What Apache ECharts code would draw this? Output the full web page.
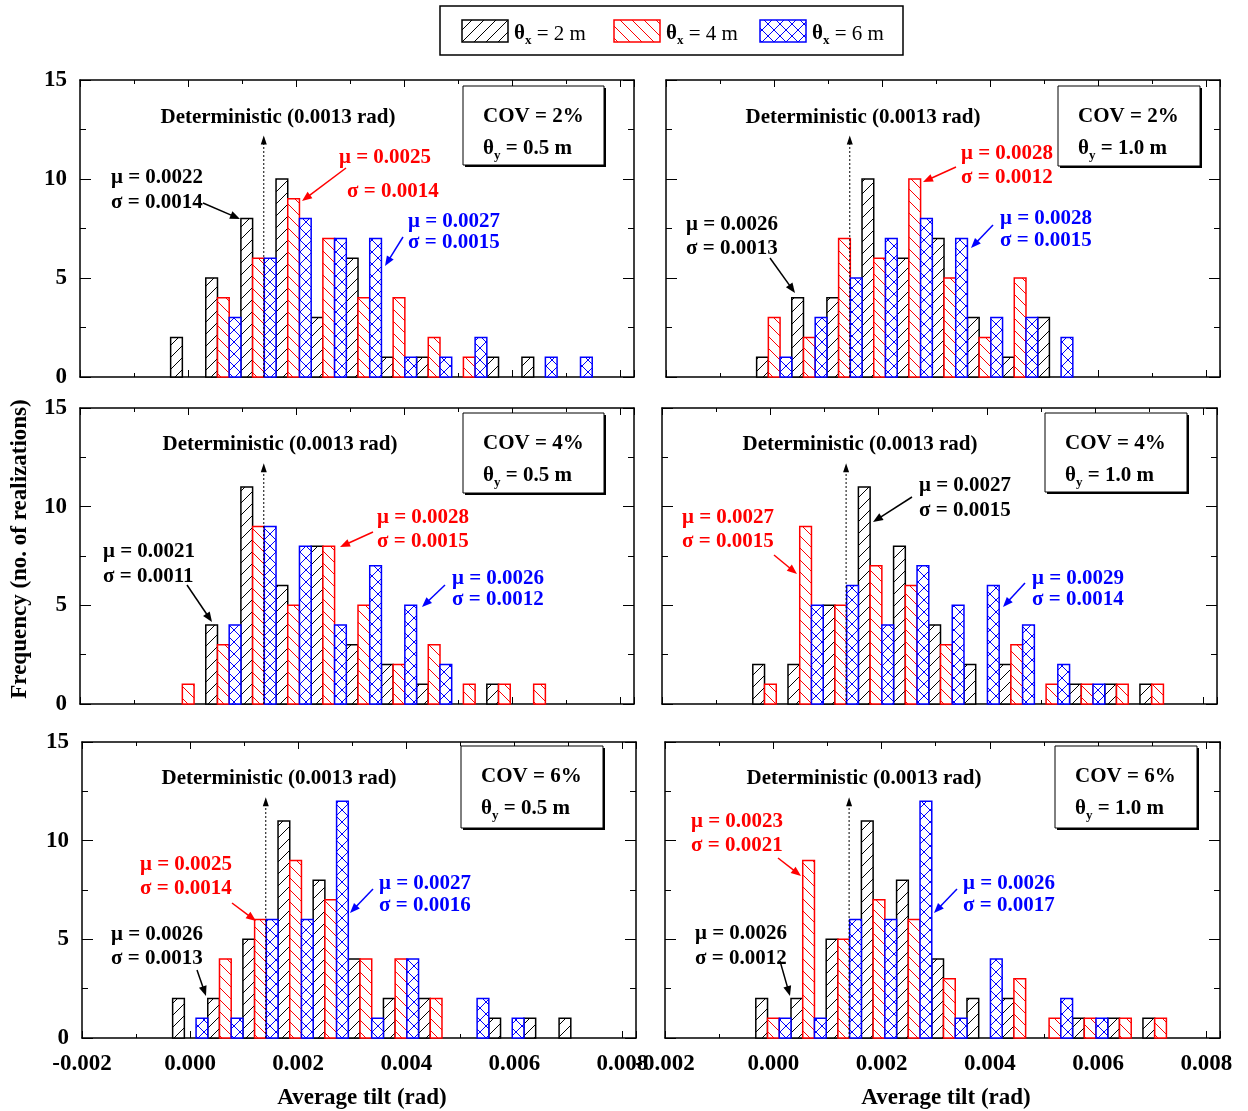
<!DOCTYPE html>
<html><head><meta charset="utf-8">
<script src="https://cdn.jsdelivr.net/npm/echarts@6/dist/echarts.min.js"></script>
<style>html,body{margin:0;padding:0;background:#fff}#c{width:1248px;height:1111px}</style>
</head><body><div id="c"></div>
<script>
// ---------------- data ----------------
const X_MIN = -0.002, X_MAX = 0.00825, X_TICK = 0.002;
const Y_MIN = 0, Y_MAX = 15, Y_TICK = 5;
// histogram bin group edges (rad); each group holds the three θx bars side by side
const BIN_EDGES = [-0.000323, 0.000327, 0.000977, 0.001627, 0.002277, 0.002927, 0.003577,
                   0.004227, 0.004877, 0.005527, 0.006177, 0.006827, 0.007477];
const DETERMINISTIC_TILT = 0.0014;   // drawn position of the dotted arrow
const DETERMINISTIC_TOP = 12.2;     // arrow tip height (count units)
const SERIES_LABELS = ['2 m', '4 m', '6 m'];
const SERIES_COLORS = ['#000000', '#ff0000', '#0000ff'];

// counts per bin: panel = COV / θy, series = θx
const cov2_ty05_tx2 = [2,5,8,10,3,6,1,1,0,1,1,0];
const cov2_ty05_tx4 = [0,4,6,9,7,4,4,2,1,0,0,0];
const cov2_ty05_tx6 = [0,3,6,8,7,7,1,1,2,0,1,1];
const cov2_ty10_tx2 = [1,4,4,10,6,7,3,1,3,0,0,0];
const cov2_ty10_tx4 = [3,2,7,6,10,5,2,5,0,0,0,0];
const cov2_ty10_tx6 = [1,3,5,7,8,7,3,3,2,0,0,0];
const cov4_ty05_tx2 = [0,4,11,6,8,3,2,1,0,1,0,0];
const cov4_ty05_tx4 = [1,3,9,5,8,5,2,3,1,1,1,0];
const cov4_ty05_tx6 = [0,4,9,8,4,7,5,2,0,0,0,0];
const cov4_ty10_tx2 = [2,2,5,11,8,4,2,2,0,1,1,1];
const cov4_ty10_tx4 = [1,9,5,7,6,3,0,3,1,1,1,1];
const cov4_ty10_tx6 = [0,5,6,4,7,5,6,4,2,1,0,0];
const cov6_ty05_tx2 = [2,2,5,11,8,4,2,2,0,1,1,1];
const cov6_ty05_tx4 = [0,4,6,9,7,4,4,2,0,0,0,0];
const cov6_ty05_tx6 = [1,1,6,6,12,1,4,0,2,1,0,0];
const cov6_ty10_tx2 = [2,2,5,11,8,4,2,2,0,1,1,1];
const cov6_ty10_tx4 = [1,9,5,7,6,3,0,3,1,1,1,1];
const cov6_ty10_tx6 = [1,1,6,6,12,1,4,0,2,1,0,0];

// statistics text [mu, sigma] per series
const stats_cov2_ty05 = [['0.0022','0.0014'],['0.0025','0.0014'],['0.0027','0.0015']];
const stats_cov2_ty10 = [['0.0026','0.0013'],['0.0028','0.0012'],['0.0028','0.0015']];
const stats_cov4_ty05 = [['0.0021','0.0011'],['0.0028','0.0015'],['0.0026','0.0012']];
const stats_cov4_ty10 = [['0.0027','0.0015'],['0.0027','0.0015'],['0.0029','0.0014']];
const stats_cov6_ty05 = [['0.0026','0.0013'],['0.0025','0.0014'],['0.0027','0.0016']];
const stats_cov6_ty10 = [['0.0026','0.0012'],['0.0023','0.0021'],['0.0026','0.0017']];

// ---------------- layout ----------------
const FONT = '"Liberation Serif", "Times New Roman", serif';
const TY = 2; // vertical text nudge
const PANELS = [
  {grid:[80,80,554,297],  counts:[cov2_ty05_tx2,cov2_ty05_tx4,cov2_ty05_tx6], stats:stats_cov2_ty05, cov:'2%', thy:'0.5 m', xl:false, yl:true,
   det:[278,116], box:[463,86,141,79],
   ann:[{mu:[111,176],sg:[111,201],ar:[203,203,240,219]},{mu:[339,156],sg:[347,190],ar:[346,168,302,201]},{mu:[408,220],sg:[408,241],ar:[403,237,385,266]}]},
  {grid:[666,80,554,297], counts:[cov2_ty10_tx2,cov2_ty10_tx4,cov2_ty10_tx6], stats:stats_cov2_ty10, cov:'2%', thy:'1.0 m', xl:false, yl:false,
   det:[863,116], box:[1058,86,142,80],
   ann:[{mu:[686,223],sg:[686,247],ar:[770,258,795,293]},{mu:[961,152],sg:[961,176],ar:[956,167,923,182]},{mu:[1000,217],sg:[1000,239],ar:[993,225,971,248]}]},
  {grid:[80,408,554,296], counts:[cov4_ty05_tx2,cov4_ty05_tx4,cov4_ty05_tx6], stats:stats_cov4_ty05, cov:'4%', thy:'0.5 m', xl:false, yl:true,
   det:[280,443], box:[463,413,141,80],
   ann:[{mu:[103,550],sg:[103,575],ar:[187,585,212,622]},{mu:[377,516],sg:[377,540],ar:[373,532,340,547]},{mu:[452,577],sg:[452,598],ar:[445,585,422,607]}]},
  {grid:[662,408,555,296], counts:[cov4_ty10_tx2,cov4_ty10_tx4,cov4_ty10_tx6], stats:stats_cov4_ty10, cov:'4%', thy:'1.0 m', xl:false, yl:false,
   det:[860,443], box:[1045,413,142,79],
   ann:[{mu:[919,484],sg:[919,509],ar:[912,497,873,522]},{mu:[682,516],sg:[682,540],ar:[774,555,797,574]},{mu:[1032,577],sg:[1032,598],ar:[1025,583,1003,607]}]},
  {grid:[82,742,554,296], counts:[cov6_ty05_tx2,cov6_ty05_tx4,cov6_ty05_tx6], stats:stats_cov6_ty05, cov:'6%', thy:'0.5 m', xl:true, yl:true,
   det:[279,777], box:[461,746,142,82],
   ann:[{mu:[111,933],sg:[111,957],ar:[197,970,206,996]},{mu:[140,863],sg:[140,887],ar:[232,903,256,921]},{mu:[379,882],sg:[379,904],ar:[373,889,350,913]}]},
  {grid:[665,742,555,296], counts:[cov6_ty10_tx2,cov6_ty10_tx4,cov6_ty10_tx6], stats:stats_cov6_ty10, cov:'6%', thy:'1.0 m', xl:true, yl:false,
   det:[864,777], box:[1055,746,142,82],
   ann:[{mu:[695,932],sg:[695,957],ar:[780,961,790,996]},{mu:[691,820],sg:[691,844],ar:[778,858,801,876]},{mu:[963,882],sg:[963,904],ar:[957,889,934,913]}]}
];

// ---------------- hatch patterns ----------------
function makeHatch(color, kind) {
  const s = 12, c = document.createElement('canvas');
  c.width = s; c.height = s;
  const g = c.getContext('2d');
  g.fillStyle = '#ffffff'; g.fillRect(0, 0, s, s);
  g.strokeStyle = color; g.lineWidth = 1;
  if (kind === 'fwd' || kind === 'cross') {
    g.beginPath();
    g.moveTo(-2, s + 2); g.lineTo(s + 2, -2);
    g.moveTo(-2, 2); g.lineTo(2, -2);
    g.moveTo(s - 2, s + 2); g.lineTo(s + 2, s - 2);
    g.stroke();
  }
  if (kind === 'back' || kind === 'cross') {
    g.beginPath();
    g.moveTo(-2, -2); g.lineTo(s + 2, s + 2);
    g.moveTo(s - 2, -2); g.lineTo(s + 2, 2);
    g.moveTo(-2, s - 2); g.lineTo(2, s + 2);
    g.stroke();
  }
  return {image: c, repeat: 'repeat'};
}
const PATTERNS = [makeHatch(SERIES_COLORS[0], 'fwd'), makeHatch(SERIES_COLORS[1], 'back'), makeHatch(SERIES_COLORS[2], 'cross')];

// ---------------- option ----------------
function fmtX(v) {
  const r = Math.round(v / X_TICK) * X_TICK;
  if (Math.abs(v - r) > 1e-9) return '';
  return r.toFixed(3);
}
const grids = [], xAxes = [], yAxes = [], series = [];
PANELS.forEach((p, i) => {
  grids.push({left: p.grid[0], top: p.grid[1], width: p.grid[2], height: p.grid[3]});
  const xb = {type: 'value', gridIndex: i, min: X_MIN, max: X_MAX, interval: X_TICK,
    splitLine: {show: false},
    axisLine: {show: true, onZero: false, lineStyle: {color: '#000', width: 1.5}},
    axisTick: {show: true, inside: true, length: 7, lineStyle: {color: '#000', width: 1}},
    minorTick: {show: true, splitNumber: 2, length: 4, lineStyle: {color: '#000', width: 1}}};
  xAxes.push(Object.assign({}, xb, {position: 'bottom',
    axisLabel: {show: p.xl, margin: 15, color: '#000', fontFamily: FONT, fontWeight: 'bold', fontSize: 23, showMaxLabel: false, formatter: fmtX}}));
  xAxes.push(Object.assign({}, xb, {position: 'top', axisLabel: {show: false}}));
  const yb = {type: 'value', gridIndex: i, min: Y_MIN, max: Y_MAX, interval: Y_TICK,
    splitLine: {show: false},
    axisLine: {show: true, onZero: false, lineStyle: {color: '#000', width: 1.5}},
    axisTick: {show: true, inside: true, length: 11, lineStyle: {color: '#000', width: 1}},
    minorTick: {show: true, splitNumber: 2, length: 6, lineStyle: {color: '#000', width: 1}}};
  yAxes.push(Object.assign({}, yb, {position: 'left',
    axisLabel: {show: p.yl, margin: 13, color: '#000', fontFamily: FONT, fontWeight: 'bold', fontSize: 23}}));
  yAxes.push(Object.assign({}, yb, {position: 'right', axisLabel: {show: false}}));

  p.counts.forEach((arr, s) => {
    const data = [];
    arr.forEach((c, k) => {
      if (c <= 0) return;
      const w = (BIN_EDGES[k + 1] - BIN_EDGES[k]) / 3;
      data.push([BIN_EDGES[k] + s * w, BIN_EDGES[k] + (s + 1) * w, c]);
    });
    series.push({
      type: 'custom', name: SERIES_LABELS[s], xAxisIndex: 2 * i, yAxisIndex: 2 * i,
      encode: {x: [0, 1], y: 2}, data: data, z: 2 + s,
      renderItem: function (params, api) {
        const p0 = api.coord([api.value(0), api.value(2)]);
        const p1 = api.coord([api.value(1), 0]);
        return {type: 'rect', shape: {x: p0[0], y: p0[1], width: p1[0] - p0[0], height: p1[1] - p0[1]},
          style: {fill: PATTERNS[s], stroke: SERIES_COLORS[s], lineWidth: 1.5}};
      }
    });
  });
});

const chart = echarts.init(document.getElementById('c'), null, {renderer: 'canvas'});
chart.setOption({animation: false, backgroundColor: '#fff', grid: grids, xAxis: xAxes, yAxis: yAxes, series: series});

// ---------------- annotations ----------------
function txt(x, y, text, color, size, weight, align) {
  return {type: 'text', x: x, y: y + TY, z: 100,
    style: {text: text, fill: color, font: (weight || 'bold') + ' ' + (size || 21) + 'px ' + FONT,
      align: align || 'left', verticalAlign: 'middle'}};
}
function subText(x, y, base, sub, rest, color, restWeight) {
  return {type: 'text', x: x, y: y + TY, z: 100, style: {
    text: '{a|' + base + '}{s|' + sub + '}{r|' + rest + '}', align: 'left', verticalAlign: 'middle',
    rich: {
      a: {fill: color, color: color, fontFamily: FONT, fontWeight: 'bold', fontSize: 21, lineHeight: 26},
      s: {fill: color, color: color, fontFamily: FONT, fontWeight: 'bold', fontSize: 13, lineHeight: 13, verticalAlign: 'bottom'},
      r: {fill: color, color: color, fontFamily: FONT, fontWeight: restWeight || 'bold', fontSize: 21, lineHeight: 26}
    }}};
}
function arrow(x1, y1, x2, y2, color, dotted, hl, hw) {
  hl = hl || 10; hw = hw || 4;
  const dx = x2 - x1, dy = y2 - y1, L = Math.hypot(dx, dy), ux = dx / L, uy = dy / L;
  const bx = x2 - ux * hl, by = y2 - uy * hl;
  return [
    {type: 'line', z: 100, shape: {x1: x1, y1: y1, x2: bx + ux * 1, y2: by + uy * 1},
      style: {stroke: color, lineWidth: dotted ? 1 : 1.5, lineDash: dotted ? [2, 2] : null}},
    {type: 'polygon', z: 100, shape: {points: [[x2, y2], [bx - uy * hw, by + ux * hw], [bx + uy * hw, by - ux * hw]]},
      style: {fill: color}}
  ];
}
const G = [];
PANELS.forEach((p, i) => {
  const b = chart.convertToPixel({seriesIndex: 3 * i}, [DETERMINISTIC_TILT, 0]);
  const t = chart.convertToPixel({seriesIndex: 3 * i}, [DETERMINISTIC_TILT, DETERMINISTIC_TOP]);
  G.push(...arrow(b[0], b[1], t[0], t[1], '#000', true, 9, 3));
  G.push(txt(p.det[0], p.det[1], 'Deterministic (0.0013 rad)', '#000', 21, 'bold', 'center'));
  // COV box with shadow
  const bx = p.box;
  G.push({type: 'rect', z: 99, shape: {x: bx[0] + 2, y: bx[1] + 2, width: bx[2], height: bx[3]}, style: {fill: '#000'}});
  G.push({type: 'rect', z: 99, shape: {x: bx[0], y: bx[1], width: bx[2], height: bx[3]}, style: {fill: '#fff', stroke: '#000', lineWidth: 1}});
  G.push(txt(bx[0] + 20, bx[1] + 29, 'COV = ' + p.cov, '#000', 21, 'bold'));
  G.push(subText(bx[0] + 20, bx[1] + 61, 'θ', 'y', ' = ' + p.thy, '#000'));
  p.ann.forEach((a, s) => {
    const col = SERIES_COLORS[s];
    G.push(txt(a.mu[0], a.mu[1], 'μ = ' + p.stats[s][0], col, 21, 'bold'));
    G.push(txt(a.sg[0], a.sg[1], 'σ = ' + p.stats[s][1], col, 21, 'bold'));
    G.push(...arrow(a.ar[0], a.ar[1], a.ar[2], a.ar[3], col, false, 10, 4));
  });
});
// axis titles
G.push(txt(362, 1096, 'Average tilt (rad)', '#000', 23, 'bold', 'center'));
G.push(txt(946, 1096, 'Average tilt (rad)', '#000', 23, 'bold', 'center'));
G.push({type: 'text', x: 20, y: 549, rotation: Math.PI / 2, z: 100,
  style: {text: 'Frequency (no. of realizations)', fill: '#000', font: 'bold 23px ' + FONT, align: 'center', verticalAlign: 'middle'}});
// legend
G.push({type: 'rect', z: 99, shape: {x: 440, y: 6, width: 463, height: 49}, style: {fill: '#fff', stroke: '#000', lineWidth: 1.5}});
const LEG_X = [462, 614, 760];
LEG_X.forEach((lx, s) => {
  G.push({type: 'rect', z: 100, shape: {x: lx, y: 20, width: 46, height: 22}, style: {fill: PATTERNS[s], stroke: SERIES_COLORS[s], lineWidth: 1.5}});
  G.push(subText(lx + 52, 32, 'θ', 'x', ' = ' + SERIES_LABELS[s], '#000', 'normal'));
});
chart.setOption({graphic: G});
</script>
</body></html>
